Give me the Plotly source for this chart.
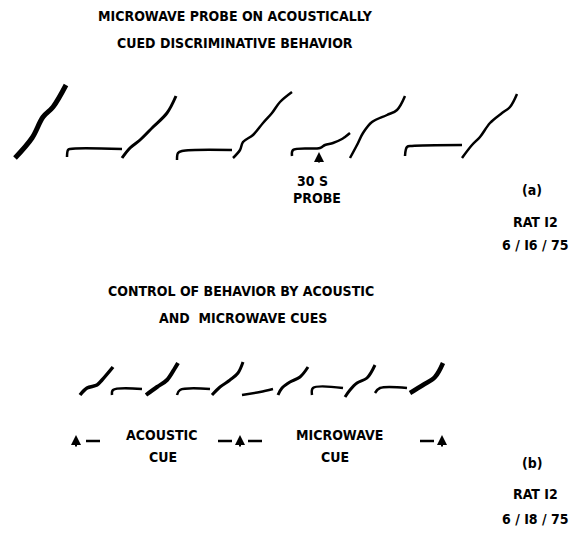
import plotly.graph_objects as go

# cumulative records, panel (a) - traced positions on the page
rec_a_x = [
    [15, 32, 43, 53, 66],
    [67, 68, 70, 122],
    [122, 130, 140, 153, 167, 176],
    [177, 178, 182, 232],
    [233, 240, 243, 253, 263, 272, 280, 292],
    [292, 293, 320, 325, 333, 342, 345, 350],
    [350, 357, 363, 372, 387, 397, 405],
    [405, 407, 412, 462],
    [462, 472, 480, 490, 502, 510, 517],
]
rec_a_y = [
    [158, 138, 117, 107, 85],
    [157, 150, 149, 149],
    [158, 148, 140, 127, 113, 96],
    [160, 153, 151, 150],
    [158, 150, 142, 135, 123, 113, 102, 92],
    [156, 150, 148, 145, 143, 139, 137, 133],
    [158, 145, 133, 122, 115, 110, 96],
    [156, 147, 146, 145],
    [158, 145, 137, 123, 113, 107, 94],
]
rec_a_w = [5, 2.5, 3, 2.5, 2.5, 2.5, 2.5, 2.5, 2.5]

# cumulative records, panel (b)
rec_b_x = [
    [80, 87, 97, 102, 113],
    [112, 113, 142],
    [146, 157, 167, 175, 178],
    [177, 180, 210],
    [212, 220, 230, 238, 243],
    [242, 260, 273],
    [278, 282, 290, 300, 308],
    [312, 313, 343],
    [345, 350, 357, 367, 375],
    [375, 380, 407],
    [410, 423, 435, 443],
]
rec_b_y = [
    [395, 388, 385, 380, 367],
    [395, 390, 389],
    [395, 387, 380, 368, 363],
    [395, 390, 389],
    [395, 387, 380, 373, 362],
    [395, 392, 389],
    [395, 388, 382, 377, 367],
    [395, 388, 388],
    [397, 390, 383, 378, 365],
    [393, 388, 388],
    [393, 385, 377, 363],
]
rec_b_w = [3.5, 2.5, 4, 2.5, 3, 2.5, 3, 2.5, 3, 2.5, 4.5]

# cue markers under panel (b)
arrow_x = [76, 240, 442]
dash_x = [93, 225, 255, 427]

fig = go.Figure()
for xs, ys, w in zip(rec_a_x + rec_b_x, rec_a_y + rec_b_y, rec_a_w + rec_b_w):
    fig.add_trace(go.Scatter(x=xs, y=ys, mode="lines",
                             line=dict(color="black", width=w, shape="spline"),
                             hoverinfo="skip", showlegend=False))

fig.add_trace(go.Scatter(x=dash_x, y=[441] * len(dash_x), mode="markers",
                         marker=dict(symbol="line-ew", size=10, line=dict(width=2.5, color="black")),
                         hoverinfo="skip", showlegend=False))

font = dict(family="DejaVu Sans Condensed, DejaVu Sans", size=14, color="black")

texts = [
    ("MICROWAVE PROBE ON ACOUSTICALLY", 235, 16),
    ("CUED DISCRIMINATIVE BEHAVIOR", 235, 43),
    ("30 S", 312, 181),
    ("PROBE", 317, 198),
    ("(a)", 532, 190),
    ("RAT I2", 535, 222),
    ("6 / I6 / 75", 535, 245),
    ("CONTROL OF BEHAVIOR BY ACOUSTIC", 241, 291),
    ("AND  MICROWAVE CUES", 243, 318),
    ("ACOUSTIC", 162, 435),
    ("CUE", 163, 457),
    ("MICROWAVE", 339, 435),
    ("CUE", 335, 457),
    ("(b)", 532, 463),
    ("RAT I2", 535, 494),
    ("6 / I8 / 75", 535, 519),
]
for t, x, y in texts:
    fig.add_annotation(x=x, y=y, text="<b>" + t + "</b>", showarrow=False,
                       font=font, xanchor="center", yanchor="middle")

# 30 s probe arrow and cue arrows
for x, y0, y1 in [(319, 152, 164)] + [(ax_, 435, 448) for ax_ in arrow_x]:
    fig.add_annotation(x=x, y=y0, ax=x, ay=y1, xref="x", yref="y", axref="x", ayref="y",
                       text="", showarrow=True, arrowhead=2, arrowsize=1,
                       arrowwidth=2, arrowcolor="black")

fig.update_xaxes(range=[0, 585], visible=False)
fig.update_yaxes(range=[533, 0], visible=False)
fig.update_layout(width=585, height=533, margin=dict(l=0, r=0, t=0, b=0),
                  plot_bgcolor="white", paper_bgcolor="white")

fig.write_html("out.html", config={"displayModeBar": False},
               post_script="document.body.style.margin='0';")
